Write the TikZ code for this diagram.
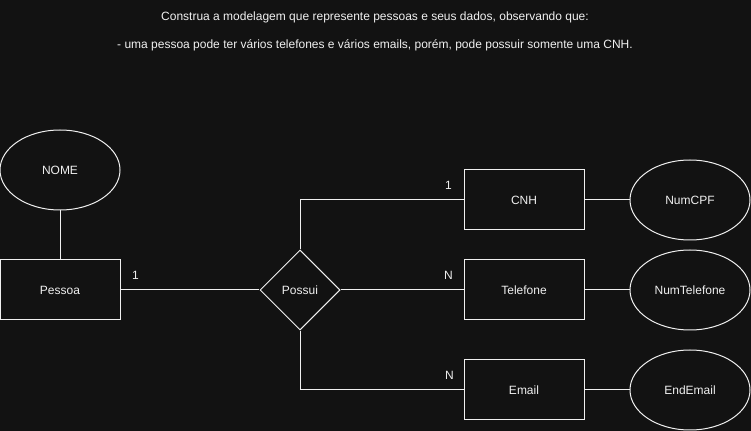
\documentclass[tikz,border=0pt]{standalone}
\usepackage{fontspec}
\setmainfont{Liberation Sans}
\usetikzlibrary{shapes,positioning}
\definecolor{canvas}{RGB}{18,18,18}
\definecolor{inkwhite}{RGB}{240,240,240}

\begin{document}
\begin{tikzpicture}[x=0.75pt, y=-0.75pt, every text node part/.style={text centered},
                    font=\fontsize{9}{11}\selectfont]
\tikzset{every node/.style={text=inkwhite},
         entity/.style={rectangle, draw=inkwhite, line width=0.75pt,
                        minimum width=90pt, minimum height=45pt},
         attrib/.style={ellipse, draw=inkwhite, line width=0.75pt,
                        minimum width=90pt, minimum height=60pt, inner sep=0pt},
         relation/.style={diamond, draw=inkwhite, line width=0.75pt,
                          minimum width=60pt, minimum height=60pt, inner sep=0pt},
         card/.style={inner sep=0pt},
         link/.style={draw=inkwhite, line width=0.75pt}}
\fill[canvas] (0,0) rectangle (751,431);
\useasboundingbox (0,0) rectangle (751,431);

\node(title) at (375,17)
  {Construa a modelagem que represente pessoas e seus dados, observando que:};
\node(rule) at (375,45)
  {- uma pessoa pode ter vários telefones e vários emails, porém, pode possuir somente uma CNH.};

\node(pessoa) [entity] at (60,290) {Pessoa};

\node(nome) [attrib, above of=pessoa, node distance=90pt] {NOME};

\node(possui) [relation, right of=pessoa, node distance=180pt] {Possui};

\node(telefone) [entity, right of=possui, node distance=168pt] {Telefone};

\node(cnh) [entity, above of=telefone, node distance=67.5pt] {CNH};

\node(email) [entity, below of=telefone, node distance=75pt] {Email};

\node(numcpf) [attrib, right of=cnh, node distance=124.5pt] {NumCPF};

\node(numtelefone) [attrib, right of=telefone, node distance=124.5pt] {NumTelefone};

\node(endemail) [attrib, right of=email, node distance=124.5pt] {EndEmail};

\draw[link] (nome) -- (pessoa);
\draw[link] (pessoa) -- (possui);
\draw[link] (possui) |- (cnh);
\draw[link] (possui) -- (telefone);
\draw[link] (possui) |- (email);
\draw[link] (cnh) -- (numcpf);
\draw[link] (telefone) -- (numtelefone);
\draw[link] (email) -- (endemail);

\node(cardpessoa) [card, shift={(15,-15)}] at (pessoa.east) {1};
\node(cardcnh) [card, shift={(-15,-15)}] at (cnh.west) {1};
\node(cardtelefone) [card, shift={(-15,-15)}] at (telefone.west) {N};
\node(cardemail) [card, shift={(-14,-15)}] at (email.west) {N};

\end{tikzpicture}
\end{document}
